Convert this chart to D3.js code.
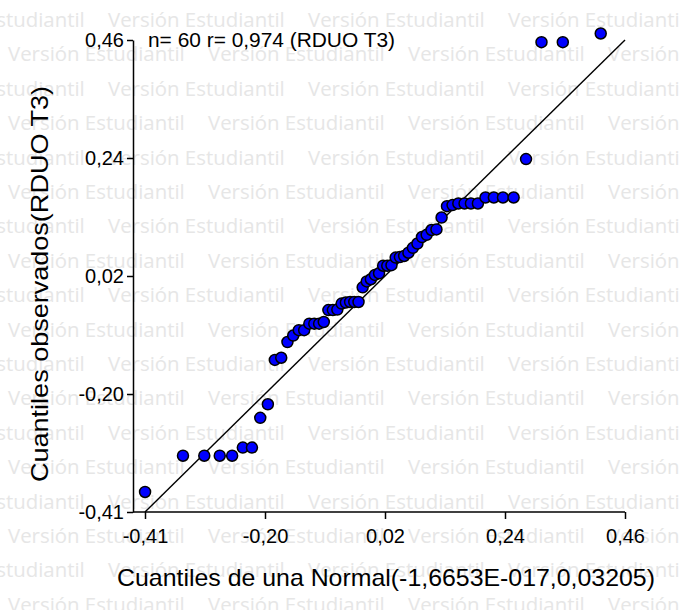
<!DOCTYPE html>
<html>
<head>
<meta charset="utf-8">
<script src="https://cdn.jsdelivr.net/npm/d3@7"></script>
<style>
  html, body { margin: 0; padding: 0; background: #fff; }
  svg { display: block; }
  .axis text { font-family: "Liberation Sans", Arial, sans-serif; font-size: 20px; fill: #000; }
  .axis path, .axis line { stroke: #000; stroke-width: 1.5; }
</style>
</head>
<body>
<svg width="680" height="610"></svg>
<script>
const qTheo = [
  -0.4139, -0.3450, -0.3063, -0.2782, -0.2557, -0.2363, -0.2197, -0.2046, -0.1908, -0.1781,
  -0.1665, -0.1552, -0.1447, -0.1346, -0.1248, -0.1155, -0.1065, -0.0977, -0.0892, -0.0809,
  -0.0727, -0.0646, -0.0568, -0.0491, -0.0414, -0.0338, -0.0261, -0.0186, -0.0112, -0.0037,
  0.0037, 0.0112, 0.0186, 0.0261, 0.0338, 0.0414, 0.0491, 0.0568, 0.0646, 0.0727,
  0.0809, 0.0892, 0.0977, 0.1065, 0.1155, 0.1248, 0.1346, 0.1447, 0.1552, 0.1665,
  0.1781, 0.1908, 0.2046, 0.2197, 0.2363, 0.2557, 0.2782, 0.3063, 0.3450, 0.4139
];
const qObs = [
  -0.377, -0.310, -0.310, -0.310, -0.310, -0.295, -0.295, -0.240, -0.215, -0.133,
  -0.129, -0.100, -0.088, -0.078, -0.078, -0.066, -0.066, -0.066, -0.063, -0.041,
  -0.041, -0.040, -0.029, -0.027, -0.026, -0.026, -0.026, 0.001, 0.012, 0.016,
  0.024, 0.027, 0.041, 0.041, 0.042, 0.056, 0.057, 0.059, 0.065, 0.074,
  0.082, 0.094, 0.098, 0.107, 0.108, 0.130, 0.151, 0.153, 0.156, 0.156,
  0.156, 0.156, 0.167, 0.167, 0.167, 0.167, 0.238, 0.454, 0.454, 0.470
];
const axisMin = -0.414;
const axisMax = 0.458;
const tickVals = [-0.414, -0.196, 0.022, 0.240, 0.458];
const tickLabels = ["-0,41", "-0,20", "0,02", "0,24", "0,46"];
const refLine = [axisMin, axisMax];

const titleText = "n= 60 r= 0,974 (RDUO T3)";
const xTitle = "Cuantiles de una Normal(-1,6653E-017,0,03205)";
const yTitle = "Cuantiles observados(RDUO T3)";
const watermark = "Versión Estudiantil";

const W = 680, H = 610;
const yAxisX = 133;
const xLeft = 145, xRight = 625;
const yBottom = 512, yTop = 40;

const svg = d3.select("svg");

// watermark rows (drawn first, sits behind the chart)
const wm = svg.append("g").attr("class", "watermark");
for (let r = 0; r < 18; r++) {
  const baseY = 27 + r * 34.4;
  const start = (r % 2 === 0) ? -92 : 8;
  for (let x0 = start; x0 < W; x0 += 200) {
    wm.append("text")
      .attr("x", x0)
      .attr("y", baseY)
      .attr("font-family", "'Open Sans', sans-serif")
      .attr("font-size", 20.4)
      .attr("fill", "#e6e6e6")
      .text(watermark);
  }
}

const x = d3.scaleLinear().domain([axisMin, axisMax]).range([xLeft, xRight]);
const y = d3.scaleLinear().domain([axisMin, axisMax]).range([yBottom, yTop]);

// x axis
const gx = svg.append("g")
  .attr("class", "axis x")
  .attr("transform", "translate(0," + yBottom + ")")
  .call(d3.axisBottom(x).tickValues(tickVals).tickFormat((d, i) => tickLabels[i])
    .tickSize(7).tickSizeOuter(0).tickPadding(10));
gx.select(".domain").attr("d", "M" + yAxisX + ",0H" + xRight);

// y axis
svg.append("g")
  .attr("class", "axis y")
  .attr("transform", "translate(" + yAxisX + ",0)")
  .call(d3.axisLeft(y).tickValues(tickVals).tickFormat((d, i) => tickLabels[i])
    .tickSize(6).tickSizeOuter(0).tickPadding(3));

// reference line y = x
svg.append("line")
  .attr("x1", x(refLine[0])).attr("y1", y(refLine[0]))
  .attr("x2", x(refLine[1])).attr("y2", y(refLine[1]))
  .attr("stroke", "#000")
  .attr("stroke-width", 1.4);

// points
svg.selectAll(".dot")
  .data(qTheo.map((d, i) => [d, qObs[i]]))
  .enter().append("circle")
  .attr("class", "dot")
  .attr("cx", d => x(d[0]))
  .attr("cy", d => y(d[1]))
  .attr("r", 5.5)
  .attr("fill", "#0000ff")
  .attr("stroke", "#000")
  .attr("stroke-width", 1.5);

// annotation
svg.append("text")
  .attr("x", 148)
  .attr("y", 47)
  .attr("font-family", "'Liberation Sans', Arial, sans-serif")
  .attr("font-size", 20.5)
  .attr("textLength", 247)
  .attr("lengthAdjust", "spacingAndGlyphs")
  .text(titleText);

// axis titles
svg.append("text")
  .attr("x", 117)
  .attr("y", 586)
  .attr("font-family", "'Liberation Sans', Arial, sans-serif")
  .attr("font-size", 24)
  .attr("textLength", 538)
  .attr("lengthAdjust", "spacingAndGlyphs")
  .text(xTitle);

svg.append("text")
  .attr("transform", "translate(48,482) rotate(-90)")
  .attr("font-family", "'Liberation Sans', Arial, sans-serif")
  .attr("font-size", 24)
  .attr("textLength", 396)
  .attr("lengthAdjust", "spacingAndGlyphs")
  .text(yTitle);
</script>
</body>
</html>
